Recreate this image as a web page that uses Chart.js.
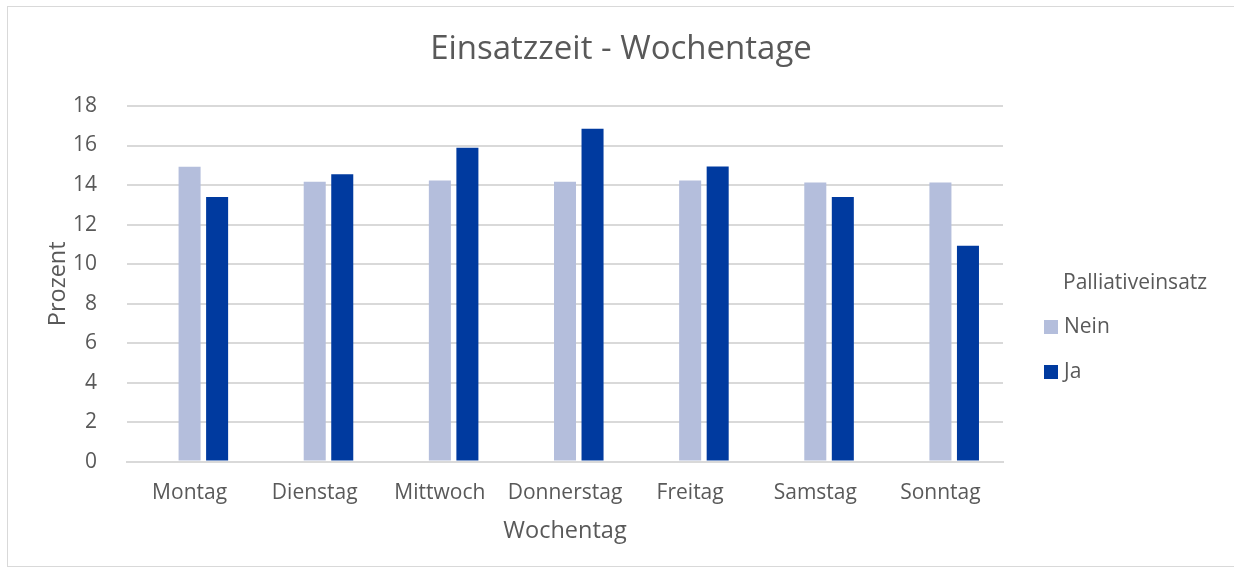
<!DOCTYPE html>
<html>
<head>
<meta charset="utf-8">
<script src="https://cdn.jsdelivr.net/npm/chart.js@4"></script>
<style>
  html, body { margin: 0; padding: 0; background: #fff; }
  #wrap {
    position: absolute; left: 7px; top: 6px;
    width: 1230px; height: 561px;
    border: 1px solid #d9d9d9; box-sizing: border-box;
  }
</style>
</head>
<body>
<div id="wrap"><canvas id="chart"></canvas></div>
<script>
const days = ['Montag', 'Dienstag', 'Mittwoch', 'Donnerstag', 'Freitag', 'Samstag', 'Sonntag'];
const nein = [14.92, 14.16, 14.23, 14.16, 14.23, 14.13, 14.13];
const ja = [13.40, 14.55, 15.89, 16.85, 14.94, 13.40, 10.92];
// the Excel chart keeps an empty first slot in each group
const blank = [0, 0, 0, 0, 0, 0, 0];
const chartTitle = 'Einsatzzeit - Wochentage';
const yTitle = 'Prozent';
const legendTitle = 'Palliativeinsatz';

const textColor = '#595959';
const fontFamily = '"Open Sans", sans-serif';

// title, y title and legend drawn by hand so they sit where Excel puts them
const excelDecor = {
    id: 'excelDecor',
    afterDraw(chart) {
        const c = chart.ctx;
        const area = chart.chartArea;
        c.save();
        c.fillStyle = textColor;
        c.textBaseline = 'middle';
        c.textAlign = 'center';
        c.font = '33px ' + fontFamily;
        c.fillText(chartTitle, chart.width / 2 - 1, 43);

        c.save();
        c.translate(50, (area.top + area.bottom) / 2);
        c.rotate(-Math.PI / 2);
        c.font = '23.5px ' + fontFamily;
        c.fillText(yTitle, 0, 0);
        c.restore();

        const x = area.right + 41;
        c.textAlign = 'left';
        c.font = '21px ' + fontFamily;
        c.fillText(legendTitle, x + 19, area.top + 177);
        chart.data.datasets.forEach((ds, i) => {
            if (!ds.label) return;
            const y = area.top + 221 + (i - 1) * 45;
            c.fillStyle = ds.backgroundColor;
            c.fillRect(x, y - 7, 14, 14);
            c.fillStyle = textColor;
            c.fillText(ds.label, x + 20, y);
        });
        c.restore();
    }
};

const ctx = document.getElementById('chart').getContext('2d');
new Chart(ctx, {
    type: 'bar',
    data: {
        labels: days,
        datasets: [
            { label: '', data: blank, backgroundColor: 'rgba(0,0,0,0)', categoryPercentage: 0.66, barPercentage: 0.8 },
            { label: 'Nein', data: nein, backgroundColor: '#b4bedc', categoryPercentage: 0.66, barPercentage: 0.8 },
            { label: 'Ja', data: ja, backgroundColor: '#003a9f', categoryPercentage: 0.66, barPercentage: 0.8 }
        ]
    },
    options: {
        responsive: true,
        maintainAspectRatio: false,
        animation: false,
        layout: { padding: { left: 35, right: 233, top: 99, bottom: 21 } },
        scales: {
            y: {
                min: 0, max: 18,
                ticks: { stepSize: 2, color: textColor, font: { family: fontFamily, size: 21 }, padding: 30 },
                grid: { color: '#d9d9d9', lineWidth: 2, drawTicks: false },
                border: { display: false }
            },
            x: {
                ticks: { color: textColor, font: { family: fontFamily, size: 21 }, padding: 11 },
                grid: { display: false },
                border: { color: '#d9d9d9', width: 2 },
                title: { display: true, text: 'Wochentag', color: textColor, font: { family: fontFamily, size: 23.5 }, padding: 0 }
            }
        },
        plugins: {
            title: { display: false },
            legend: { display: false },
            tooltip: { enabled: false }
        }
    },
    plugins: [excelDecor]
});
</script>
</body>
</html>
